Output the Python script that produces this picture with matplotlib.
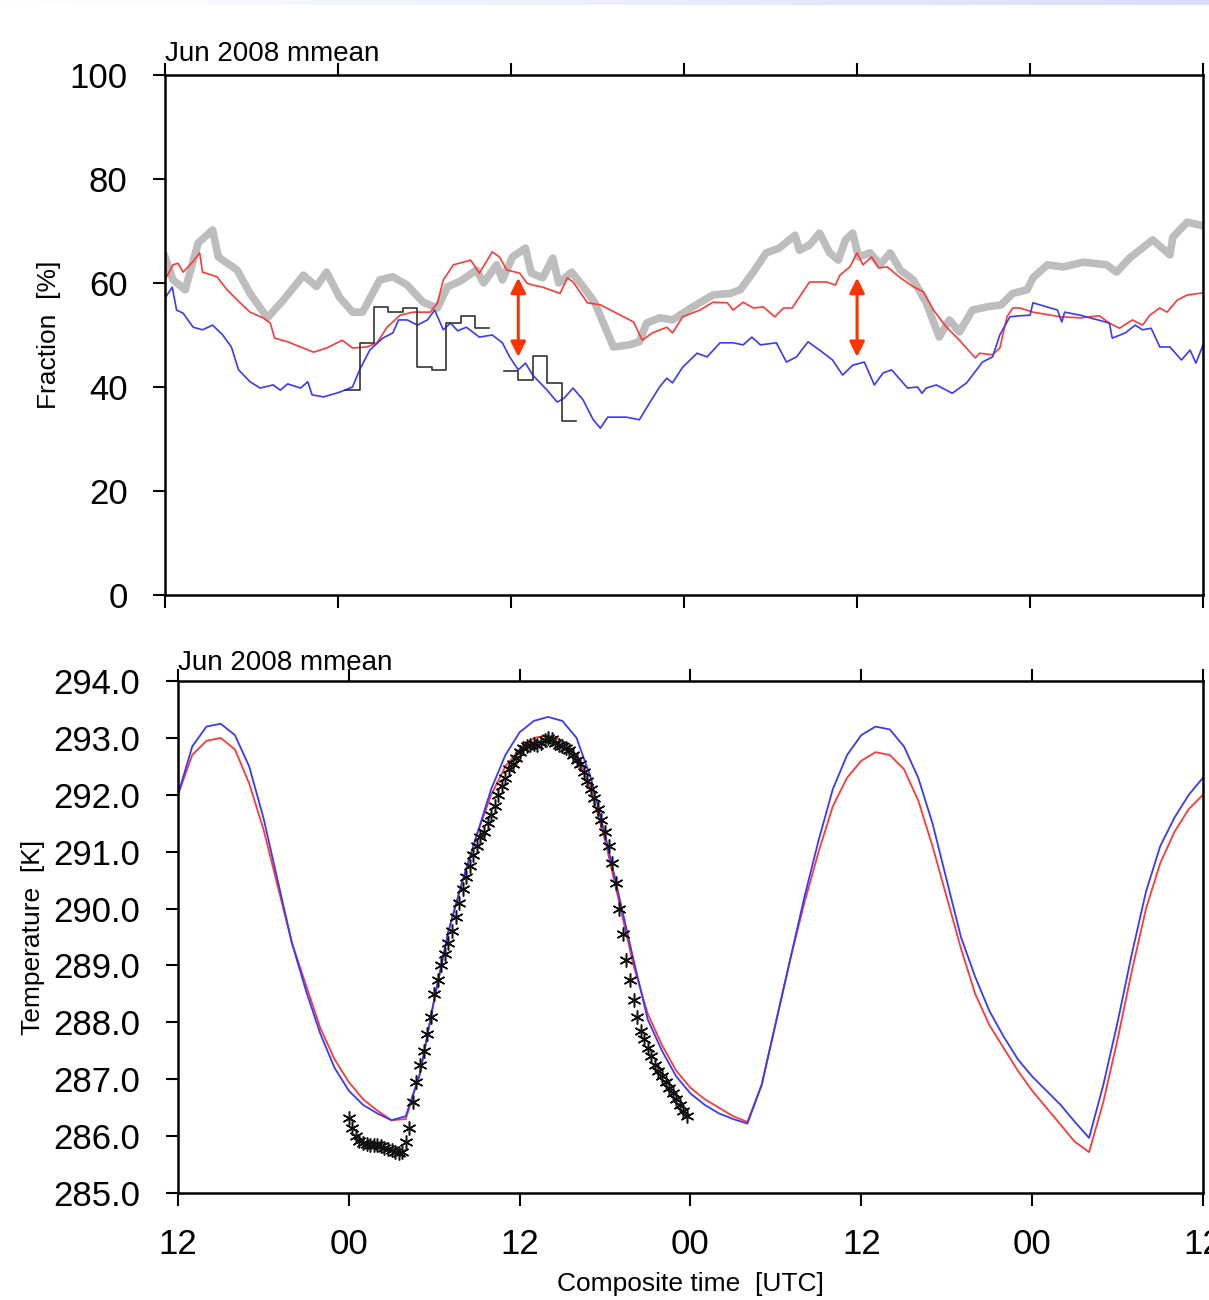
#!/usr/bin/env python3
"""
Composite diurnal cycle: cloud fraction and temperature, Jun 2008 monthly mean
"""

import numpy as np
import matplotlib
matplotlib.use('Agg')
import matplotlib.pyplot as plt

plt.rcParams['font.family'] = ['Liberation Sans', 'DejaVu Sans']

# ---- top panel: fraction [%] vs composite time (hours after 12 UTC) ----
gray_h = [0.0, 0.55, 1.4, 2.3, 3.3, 3.7, 5.0, 5.9, 7.1, 8.2, 9.6, 10.5, 11.2, 12.1, 13.0, 13.7,
          14.9, 15.8, 16.8, 17.9, 18.9, 19.6, 20.5, 21.6, 22.1, 23.0, 23.4, 24.1, 25.0, 25.4,
          26.2, 26.9, 27.3, 28.2, 29.0, 29.8, 30.4, 31.1, 32.2, 32.9, 33.4, 34.3, 35.2, 36.6,
          38.0, 39.2, 39.9, 40.8, 41.7, 42.6, 43.7, 44.0, 44.7, 45.4, 46.1, 46.7, 47.2, 47.7,
          48.1, 48.9, 49.6, 50.3, 51.0, 51.9, 52.8, 53.7, 54.4, 55.1, 56.0, 57.0, 58.0, 58.8,
          59.8, 60.2, 61.2, 62.3, 63.7, 65.3, 66.0, 66.9, 67.6, 68.5, 69.7, 69.9, 70.9, 72.0]
gray_v = [65.0, 60.6, 58.7, 67.7, 70.2, 65.0, 62.5, 58.0, 53.3, 56.7, 61.5, 59.3, 62.1, 57.3, 54.4, 54.4,
          60.6, 61.2, 59.6, 56.3, 55.2, 59.3, 60.4, 62.5, 60.0, 63.5, 60.6, 65.0, 66.7, 61.9,
          61.0, 64.8, 60.0, 62.1, 59.3, 56.3, 52.3, 47.7, 48.1, 48.7, 52.3, 53.3, 52.9, 55.4,
          57.7, 58.0, 58.7, 62.1, 65.8, 66.7, 69.2, 66.3, 67.3, 69.6, 65.8, 64.4, 68.3, 69.6,
          65.0, 65.8, 63.5, 65.8, 62.5, 60.6, 56.2, 49.6, 52.9, 50.6, 54.8, 55.4, 55.8, 58.0,
          58.7, 61.0, 63.5, 63.1, 64.0, 63.5, 62.1, 64.8, 66.3, 68.3, 65.4, 68.8, 71.7, 71.0]

red_h = [0.0, 0.55, 0.9, 1.25, 1.9, 2.4, 2.6, 3.6, 4.3, 5.2, 5.9, 6.8, 7.3, 7.6, 8.5, 9.4, 10.3,
         11.2, 12.3, 13.0, 14.0, 14.7, 15.4, 16.3, 17.2, 18.4, 18.9, 19.3, 20.0, 21.2, 21.8,
         22.7, 23.2, 23.7, 24.6, 25.1, 25.5, 26.2, 27.4, 27.9, 28.3, 29.3, 30.2, 31.6, 32.5,
         33.1, 33.8, 34.8, 35.2, 35.9, 37.1, 38.0, 39.0, 39.4, 40.1, 40.8, 41.5, 42.3, 42.9,
         43.5, 44.0, 44.7, 45.9, 46.5, 46.8, 47.5, 48.0, 48.4, 49.0, 49.5, 50.1, 51.0, 51.9,
         52.6, 53.3, 54.2, 55.1, 56.2, 56.5, 57.4, 57.9, 58.4, 58.8, 59.3, 60.2, 62.1, 63.5,
         64.8, 65.5, 66.2, 67.1, 67.8, 68.3, 69.0, 69.5, 70.2, 70.9, 72.0]
red_v = [60.6, 63.5, 63.8, 62.1, 64.0, 65.8, 62.1, 61.2, 58.7, 56.2, 54.4, 53.3, 52.3, 49.4, 48.7, 47.7, 46.7,
         47.5, 49.0, 47.5, 47.7, 48.5, 51.5, 53.8, 54.4, 54.4, 56.2, 60.6, 63.5, 64.4, 61.9,
         66.0, 65.0, 62.5, 61.9, 60.0, 59.6, 59.2, 58.0, 61.0, 60.2, 56.2, 55.8, 53.8, 52.5,
         49.0, 50.4, 51.5, 50.4, 53.5, 54.8, 56.3, 56.2, 54.8, 56.3, 55.2, 55.4, 53.5, 55.2,
         55.2, 57.3, 60.2, 60.2, 59.6, 61.5, 63.1, 65.8, 63.5, 65.0, 62.9, 63.1, 61.0, 59.3,
         58.3, 54.8, 51.5, 49.0, 45.6, 46.5, 46.2, 47.5, 53.5, 55.2, 55.2, 54.4, 53.5, 53.3,
         53.7, 52.3, 51.3, 52.9, 51.9, 53.8, 55.2, 54.4, 56.7, 57.7, 58.1]

blue_h = [0.0, 0.5, 0.8, 1.25, 1.95, 2.6, 3.3, 4.0, 4.6, 5.1, 5.9, 6.6, 7.5, 8.0, 8.5, 9.4, 9.9,
          10.2, 11.0, 12.1, 13.0, 13.5, 14.2, 15.1, 15.8, 16.2, 16.8, 17.5, 18.2, 18.7, 19.3,
          19.8, 20.3, 20.9, 21.8, 22.7, 23.4, 23.9, 24.5, 25.0, 25.5, 26.5, 27.2, 27.7, 28.3,
          29.0, 29.7, 30.2, 30.7, 32.0, 32.9, 33.6, 34.3, 34.8, 35.2, 35.9, 36.9, 37.6, 38.5,
          39.4, 40.1, 40.7, 41.3, 42.4, 43.1, 43.8, 44.6, 45.4, 46.3, 47.0, 47.7, 48.5, 49.2,
          49.8, 50.4, 51.5, 52.2, 52.5, 52.8, 53.5, 54.6, 55.6, 56.7, 57.4, 57.9, 58.6, 59.3,
          60.0, 60.2, 61.9, 62.2, 62.4, 63.5, 65.5, 65.7, 66.6, 67.3, 67.8, 68.4, 69.0, 69.7,
          70.5, 71.1, 71.5, 72.0]
blue_v = [57.1, 59.2, 54.8, 54.2, 51.5, 51.0, 51.9, 50.0, 47.7, 43.3, 41.0, 39.8, 40.4, 39.4, 40.6, 39.8, 41.0,
          38.5, 38.1, 39.0, 40.0, 43.3, 47.1, 49.4, 50.4, 52.9, 52.9, 51.9, 52.9, 54.8, 51.0,
          52.3, 50.8, 51.5, 49.6, 50.0, 48.5, 45.8, 43.3, 44.6, 42.3, 39.4, 37.1, 37.9, 39.8,
          37.5, 33.7, 32.1, 34.2, 34.2, 33.7, 36.9, 40.0, 41.7, 40.8, 43.8, 46.5, 45.8, 48.5,
          48.5, 48.1, 49.6, 48.1, 48.5, 44.8, 45.8, 48.7, 47.1, 45.2, 42.3, 44.2, 44.8, 40.4,
          42.7, 43.3, 39.8, 40.0, 38.8, 39.8, 40.4, 38.8, 40.8, 44.8, 45.8, 50.0, 53.5, 53.7,
          53.8, 56.2, 54.8, 52.5, 54.4, 53.8, 52.3, 49.4, 50.4, 51.9, 51.0, 51.3, 47.7, 47.7,
          45.2, 47.1, 44.6, 48.1]

# observed hourly fraction (hour bins 13..28, gap at 23)
obs_edges = np.arange(12.5, 29.0, 1.0)
obs_frac = [39.4, 48.5, 55.4, 54.4, 55.2, 43.8, 43.3, 52.3, 53.7, 51.3, np.nan,
            43.1, 41.3, 46.0, 40.8, 33.5]

# arrows marking the model spread
arrow_h = [24.5, 48.0]
arrow_lo, arrow_hi = 45.8, 61.0

# ---- bottom panel: temperature [K] ----
temp_h = np.arange(0, 73)
temp_blue = [292.0, 292.85, 293.2, 293.25, 293.05, 292.5, 291.6, 290.5, 289.4, 288.55, 287.8, 287.2,
             286.8, 286.55, 286.4, 286.28, 286.35, 287.1, 288.4, 289.6, 290.5, 291.3, 292.1, 292.7,
             293.1, 293.3, 293.37, 293.3, 293.0, 292.3, 291.3, 290.2, 289.1, 288.05, 287.5, 287.05,
             286.75, 286.55, 286.4, 286.3, 286.22, 286.9, 288.0, 289.1, 290.2, 291.2, 292.1, 292.7,
             293.05, 293.2, 293.15, 292.85, 292.3, 291.5, 290.5, 289.5, 288.8, 288.2, 287.75, 287.35,
             287.05, 286.8, 286.55, 286.25, 285.97, 286.9, 288.0, 289.2, 290.3, 291.1, 291.6, 292.0,
             292.3]
temp_red = [292.0, 292.7, 292.95, 293.0, 292.8, 292.2, 291.4, 290.4, 289.4, 288.65, 287.9, 287.35,
            286.95, 286.65, 286.45, 286.28, 286.3, 287.1, 288.4, 289.6, 290.5, 291.3, 292.0, 292.5,
            292.8, 293.0, 293.05, 292.95, 292.7, 292.1, 291.2, 290.1, 289.0, 288.15, 287.6, 287.15,
            286.85, 286.65, 286.5, 286.35, 286.25, 286.9, 288.0, 289.1, 290.1, 291.0, 291.8, 292.3,
            292.6, 292.75, 292.7, 292.45, 291.9, 291.1, 290.2, 289.3, 288.5, 287.95, 287.55, 287.15,
            286.8, 286.5, 286.2, 285.9, 285.72, 286.6, 287.7, 288.9, 290.0, 290.8, 291.35, 291.75,
            292.0]

# observed 2 m temperature, quarter-hourly
obs_th = np.arange(12.0, 36.0, 0.25)
obs_temp = [286.32, 286.15, 286.0, 285.92, 285.88, 285.87, 285.85, 285.85,
            285.84, 285.83, 285.8, 285.78, 285.75, 285.72, 285.7, 285.72,
            285.9, 286.15, 286.6, 286.95, 287.25, 287.5, 287.8, 288.1,
            288.5, 288.75, 289.0, 289.2, 289.4, 289.6, 289.85, 290.1,
            290.35, 290.55, 290.75, 290.95, 291.1, 291.25, 291.35, 291.5,
            291.65, 291.8, 292.0, 292.15, 292.3, 292.45, 292.55, 292.65,
            292.75, 292.82, 292.85, 292.88, 292.9, 292.88, 292.92, 292.97,
            293.0, 292.98, 292.92, 292.88, 292.85, 292.82, 292.78, 292.7,
            292.62, 292.55, 292.4, 292.25, 292.1, 291.95, 291.75, 291.55,
            291.35, 291.1, 290.8, 290.45, 290.0, 289.55, 289.1, 288.75,
            288.4, 288.1, 287.85, 287.7, 287.55, 287.4, 287.25, 287.15,
            287.05, 286.95, 286.85, 286.75, 286.65, 286.55, 286.45, 286.35]

xticks = [0, 12, 24, 36, 48, 60, 72]
xticklabels = ['12', '00', '12', '00', '12', '00', '12']

BLUE = '#3838ff'
RED = '#ff3838'
ARROW = '#ff3300'


def style_axes(ax):
    for s in ax.spines.values():
        s.set_linewidth(1.8)
    ax.set_xlim(0, 72)
    ax.set_xticks(xticks)
    ax.tick_params(axis='x', which='both', direction='out', length=9, width=1.5,
                   top=True, bottom=True, labeltop=False)
    ax.tick_params(axis='y', direction='out', length=9, width=1.5, right=False,
                   labelsize=25, pad=18)


fig = plt.figure(figsize=(12.09, 13.0), dpi=100)

# faint band along the top edge
band = fig.add_axes([0.0, 0.996, 1.0, 0.004])
band.imshow(np.linspace(0, 1, 256)[None, :], aspect='auto',
            cmap=matplotlib.colors.LinearSegmentedColormap.from_list('b', ['#ffffff', '#dcdcfa']))
band.axis('off')

# ===== top panel =====
ax1 = fig.add_axes([0.1365, 0.5423, 0.8586, 0.4])
ax1.plot(gray_h, gray_v, color='#bdbdbd', linewidth=5.5, solid_joinstyle='round', zorder=1)
ax1.plot(red_h, red_v, color=RED, linewidth=1.2, zorder=2)
ax1.plot(blue_h, blue_v, color=BLUE, linewidth=1.2, zorder=2)
ax1.step(obs_edges, list(obs_frac) + [obs_frac[-1]], where='post', color='#333333',
         linewidth=1.2, zorder=3)
for h in arrow_h:
    ax1.annotate('', xy=(h, arrow_lo), xytext=(h, arrow_hi),
                 arrowprops=dict(arrowstyle='<|-|>,head_length=0.9,head_width=0.45',
                                 color=ARROW, lw=2.2, shrinkA=0, shrinkB=0), zorder=4)
style_axes(ax1)
ax1.set_ylim(0, 100)
ax1.set_yticks([0, 20, 40, 60, 80, 100])
ax1.set_xticklabels([])
ax1.set_ylabel('Fraction  [%]', fontsize=19, labelpad=6)
ax1.set_title('Jun 2008 mmean', loc='left', fontsize=20, pad=10)

# ===== bottom panel =====
ax2 = fig.add_axes([0.1472, 0.0823, 0.8478, 0.3938])
ax2.plot(temp_h, temp_red, color=RED, linewidth=1.3, zorder=2)
ax2.plot(temp_h, temp_blue, color=BLUE, linewidth=1.3, zorder=2)
ax2.plot(obs_th, obs_temp, linestyle='none', marker=(6, 2, 0), markersize=10,
         markeredgecolor='#111111', markeredgewidth=1.1, zorder=3)
style_axes(ax2)
ax2.set_ylim(285, 294)
ax2.set_yticks(np.arange(285, 294.5, 1.0))
ax2.set_yticklabels([f'{v:.1f}' for v in np.arange(285, 294.5, 1.0)])
ax2.set_xticklabels(xticklabels, fontsize=25)
ax2.tick_params(axis='x', pad=16)
ax2.set_ylabel('Temperature  [K]', fontsize=19, labelpad=6)
ax2.set_xlabel('Composite time  [UTC]', fontsize=19, labelpad=8)
ax2.set_title('Jun 2008 mmean', loc='left', fontsize=20, pad=8)

fig.savefig('out.png', dpi=100)
